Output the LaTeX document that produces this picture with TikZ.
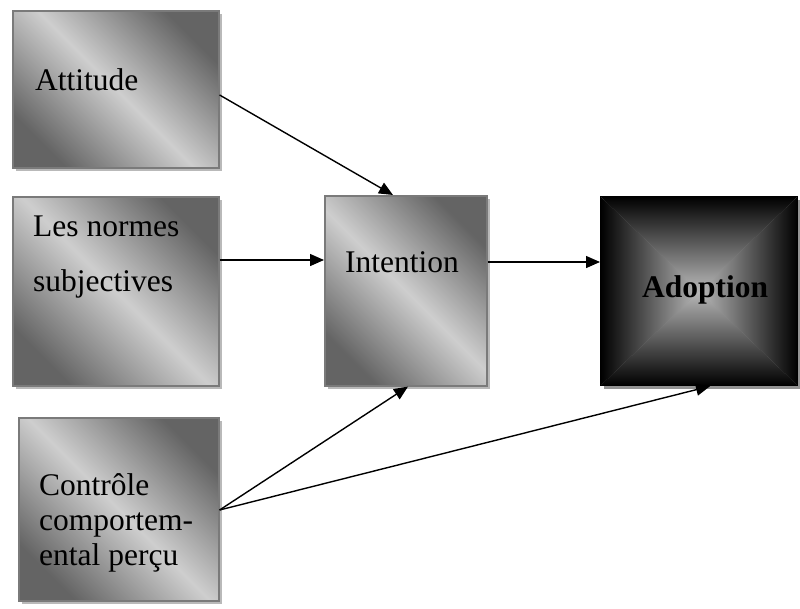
\documentclass[tikz,border=0pt]{standalone}
\usepackage{fontspec}
\setmainfont{Liberation Serif}
\usetikzlibrary{arrows.meta,shadows,calc}

\definecolor{boxdark}{HTML}{646464}
\definecolor{boxlight}{HTML}{CECECE}
\definecolor{boxedge}{HTML}{7A7A7A}
\definecolor{adopcentre}{HTML}{B8B8B8}

\tikzset{
  greybox/.style={
    rectangle, anchor=north west, inner sep=0pt,
    draw=boxedge, line width=1.6pt,
    top color=boxdark, bottom color=boxdark, middle color=boxlight,
    shading angle=-45,
    drop shadow={shadow xshift=3pt, shadow yshift=-3pt, fill=gray!55, opacity=1}
  },
  adopbox/.style={
    rectangle, anchor=north west, inner sep=0pt,
    draw=black, line width=1.2pt,
    drop shadow={shadow xshift=3pt, shadow yshift=-3pt, fill=gray!85, opacity=1},
    path picture={
      \coordinate (pNW) at (path picture bounding box.north west);
      \coordinate (pNE) at (path picture bounding box.north east);
      \coordinate (pSW) at (path picture bounding box.south west);
      \coordinate (pSE) at (path picture bounding box.south east);
      \coordinate (pC) at (path picture bounding box.center);
      \shade[top color=black, bottom color=adopcentre] (pNW) -- (pNE) -- (pC) -- cycle;
      \shade[bottom color=black, top color=adopcentre] (pSW) -- (pSE) -- (pC) -- cycle;
      \shade[left color=black, right color=adopcentre] (pNW) -- (pSW) -- (pC) -- cycle;
      \shade[right color=black, left color=adopcentre] (pNE) -- (pSE) -- (pC) -- cycle;
    }
  },
  lbl/.style={anchor=base west, inner sep=0pt, font=\fontsize{31.5}{36}\selectfont},
  link/.style={line width=1.4pt, -{Triangle[length=14pt,width=12pt]}}
}

\begin{document}
\begin{tikzpicture}[x=1pt,y=-1pt]
\useasboundingbox (0,0) rectangle (800,608);

% boxes
\node[greybox, minimum width=206pt, minimum height=157pt] (att)  at (12,10)  {};
\node[greybox, minimum width=206pt, minimum height=189pt] (norm) at (12,196) {};
\node[greybox, minimum width=162pt, minimum height=190pt] (int)  at (324,195) {};
\node[greybox, minimum width=200pt, minimum height=183pt] (ctrl) at (18,417) {};
\node[adopbox, minimum width=197pt, minimum height=189pt] (adop) at (600,196) {};

% labels
\node[lbl] (tAtt)   at (35,90)   {Attitude};
\node[lbl] (tNorm1) at (33,236)  {Les normes};
\node[lbl] (tNorm2) at (33,291)  {subjectives};
\node[lbl] (tInt)   at (345,272) {Intention};
\node[lbl] (tCtrl1) at (39,495)  {Contrôle};
\node[lbl] (tCtrl2) at (39,530)  {comportem-};
\node[lbl] (tCtrl3) at (39,565)  {ental perçu};
\node[lbl, font=\fontsize{31.5}{36}\selectfont\bfseries] (tAdop) at (642,297) {Adoption};

% connectors
\coordinate (n1) at ([yshift=-64pt]norm.north east);
\coordinate (i1) at ([yshift=-67pt]int.north east);
\coordinate (c1) at ([yshift=-93pt]ctrl.north east);

\draw[link] ([yshift=-85pt]att.north east) -- ([xshift=69pt]int.north west);
\draw[link] (n1) -- (n1 -| int.west);
\draw[link] (i1) -- (i1 -| adop.west);
\draw[link] (c1) -- ([xshift=84pt]int.south west);
\draw[link] (c1) -- ([xshift=110pt]adop.south west);
\end{tikzpicture}
\end{document}
